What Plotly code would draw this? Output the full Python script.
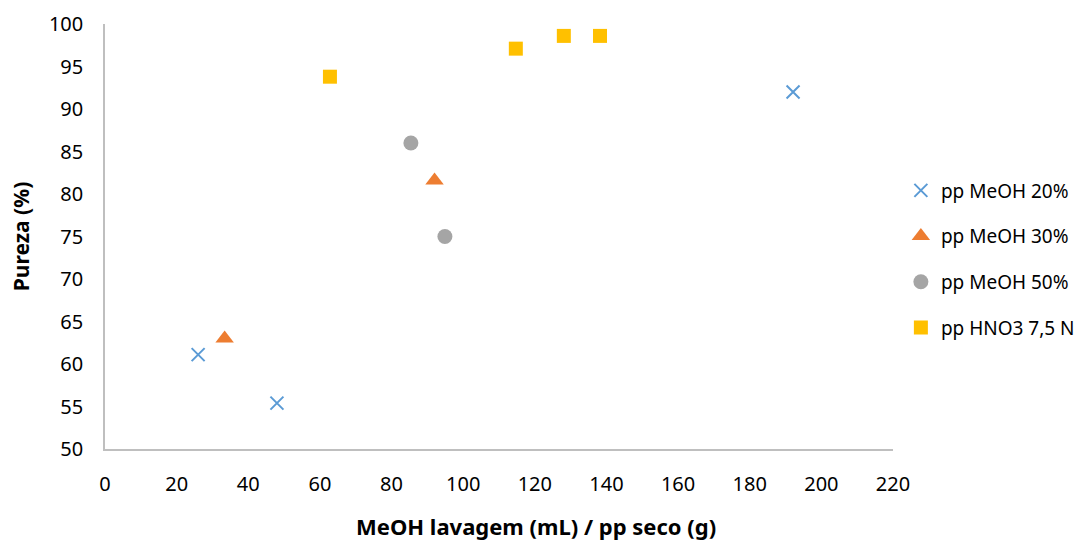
import plotly.graph_objects as go

# Wash volume ratio vs purity for each washing solvent
x_meoh20 = [26.0, 48.0, 192.1]
y_meoh20 = [61.1, 55.4, 92.0]

x_meoh30 = [33.4, 92.0]
y_meoh30 = [63.0, 81.6]

x_meoh50 = [85.4, 94.9]
y_meoh50 = [86.0, 75.0]

x_hno3 = [62.8, 114.7, 128.1, 138.2]
y_hno3 = [93.8, 97.1, 98.6, 98.6]

x_ticks = list(range(0, 221, 20))
y_ticks = list(range(50, 101, 5))

FONT = "Noto Sans, Open Sans, sans-serif"

series = [
    ("pp MeOH 20%", x_meoh20, y_meoh20, dict(symbol="x-thin", size=13, color="#5B9BD5",
                                               line=dict(color="#5B9BD5", width=2))),
    ("pp MeOH 30%", x_meoh30, y_meoh30, dict(symbol="triangle-up", size=16, color="#ED7D31")),
    ("pp MeOH 50%", x_meoh50, y_meoh50, dict(symbol="circle", size=15, color="#A5A5A5")),
    ("pp HNO3 7,5 N", x_hno3, y_hno3, dict(symbol="square", size=14, color="#FFC000")),
]

fig = go.Figure()
for i, (name, xs, ys, mk) in enumerate(series):
    fig.add_trace(go.Scatter(x=xs, y=ys, mode="markers", name=name, marker=mk,
                             legendgroup=f"g{i}"))

axis_common = dict(showgrid=False, zeroline=False, showline=True, linecolor="#BFBFBF",
                   linewidth=1.5, ticks="", ticklabelstandoff=16, automargin=False,
                   tickfont=dict(family=FONT, size=20, color="#000"))

fig.update_layout(
    width=1086, height=540,
    margin=dict(l=105, r=193, t=24, b=91, autoexpand=False),
    paper_bgcolor="white", plot_bgcolor="white",
    font=dict(family=FONT, color="#000"),
    xaxis=dict(range=[0, 220], tickvals=x_ticks, **axis_common),
    yaxis=dict(range=[50, 100], tickvals=y_ticks, **axis_common,
               title=dict(text="<b>Pureza (%)</b>", font=dict(family=FONT, size=21), standoff=14)),
    legend=dict(x=1.010, y=0.447, xanchor="left", yanchor="middle",
                font=dict(family=FONT, size=19), itemwidth=30, tracegroupgap=18,
                bgcolor="rgba(0,0,0,0)"),
)

# Horizontal axis title, placed as an annotation below the tick labels
fig.add_annotation(text="<b>MeOH lavagem (mL) / pp seco (g)</b>", xref="paper", yref="paper",
                   x=(536 - 105) / 788, y=-(526 - 449) / 425, xanchor="center", yanchor="middle",
                   showarrow=False, font=dict(family=FONT, size=22, color="#000"))

fig.write_html("out.html")
